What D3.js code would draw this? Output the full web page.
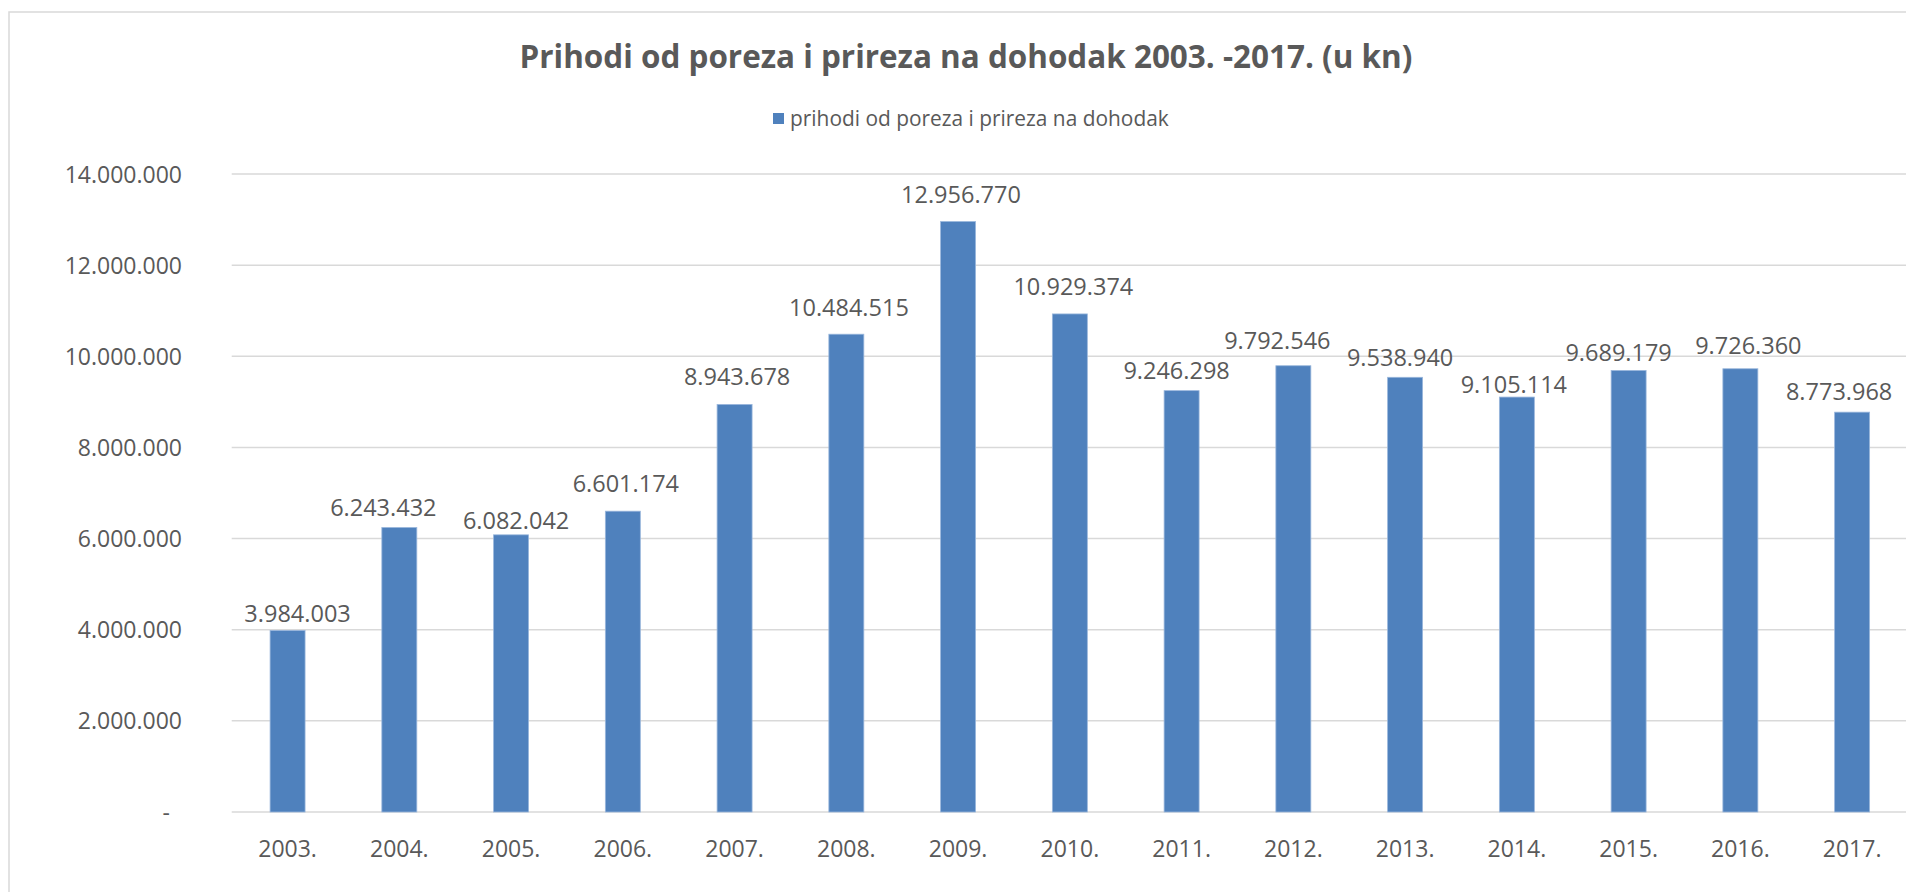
<!DOCTYPE html>
<html>
<head>
<meta charset="utf-8">
<script src="https://cdn.jsdelivr.net/npm/d3@7"></script>
<style>
  body { margin: 0; background: #fff; }
  svg text { font-family: "Open Sans", sans-serif; fill: #595959; }
</style>
</head>
<body>
<div id="chart"></div>
<script>
var years = ["2003.", "2004.", "2005.", "2006.", "2007.", "2008.", "2009.", "2010.",
             "2011.", "2012.", "2013.", "2014.", "2015.", "2016.", "2017."];
var prihodi = [3984003, 6243432, 6082042, 6601174, 8943678, 10484515, 12956770, 10929374,
               9246298, 9792546, 9538940, 9105114, 9689179, 9726360, 8773968];
var yTicks = [0, 2000000, 4000000, 6000000, 8000000, 10000000, 12000000, 14000000];
var title = "Prihodi od poreza i prireza na dohodak 2003. -2017. (u kn)";
var seriesName = "prihodi od poreza i prireza na dohodak";

// hand-moved data labels in the original: [dx, gap above bar] in px
var labelNudge = [[10, 8], [-16, 11], [5, 6], [3, 19], [2.5, 19], [2.6, 18], [2.9, 19], [3.5, 19],
                  [-5, 12], [-16, 17], [-5, 11], [-3, 4], [-10, 9], [8, 15], [-13, 12]];

var width = 1906, height = 892;
var svg = d3.select("#chart").append("svg").attr("width", width).attr("height", height);

var hr = d3.formatLocale({decimal: ",", thousands: ".", grouping: [3], currency: ["", " kn"]});
var fmt = hr.format(",d");

var plotLeft = 231.7, plotRight = 1908, plotTop = 174, plotBottom = 812;
var p = 0.687;
var x = d3.scaleBand().domain(years).range([plotLeft, plotRight]).paddingInner(p).paddingOuter(p / 2);
var y = d3.scaleLinear().domain([0, 14000000]).range([plotBottom, plotTop]);

// chart border (cut off at right and bottom like the original)
svg.append("path")
  .attr("d", "M9," + height + "V12H" + width)
  .attr("fill", "none").attr("stroke", "#d9d9d9").attr("stroke-width", 1.5);

// title
var t = svg.append("text").attr("x", 966).attr("y", 68)
  .attr("text-anchor", "middle")
  .style("font-family", "'Liberation Sans Narrow', 'Open Sans', sans-serif")
  .style("font-weight", "bold").style("font-size", "32px")
  .text(title);
var tw = t.node().getComputedTextLength();
t.style("font-size", (32 * 893 / tw) + "px");

// legend
var lg = svg.append("g");
lg.append("rect").attr("x", 773).attr("y", 113).attr("width", 11).attr("height", 11).attr("fill", "#4f81bd");
var lt = lg.append("text").attr("x", 790).attr("y", 126)
  .style("font-family", "'Liberation Sans Narrow', 'Open Sans', sans-serif")
  .style("font-size", "21px").text(seriesName);
var lw = lt.node().getComputedTextLength();
lt.style("font-size", (21 * 379 / lw) + "px");

// gridlines + y axis
var yAxis = d3.axisLeft(y).tickValues(yTicks).tickSize(0).tickPadding(0)
  .tickFormat(function(d) { return d === 0 ? "-" : fmt(d); });
var ya = svg.append("g").attr("transform", "translate(182,0)").call(yAxis);
ya.select(".domain").remove();
ya.selectAll("text").style("font-size", "23px").style("font-family", "'Open Sans', sans-serif")
  .attr("fill", "#595959").attr("dy", "0.35em")
  .attr("dx", function(d) { return d === 0 ? -12 : 0; });

svg.append("g").selectAll("line").data(yTicks).join("line")
  .attr("x1", plotLeft).attr("x2", width)
  .attr("y1", function(d) { return y(d); }).attr("y2", function(d) { return y(d); })
  .attr("stroke", "#d9d9d9").attr("stroke-width", 1.5);

// bars
svg.append("g").selectAll("rect").data(prihodi).join("rect")
  .attr("x", function(d, i) { return x(years[i]); })
  .attr("width", x.bandwidth())
  .attr("y", function(d) { return y(d); })
  .attr("height", function(d) { return y(0) - y(d); })
  .attr("fill", "#4f81bd")
  .attr("stroke", "#9ab7dc").attr("stroke-width", 0.8);

// data labels
svg.append("g").selectAll("text").data(prihodi).join("text")
  .attr("x", function(d, i) { return x(years[i]) + x.bandwidth() / 2 + labelNudge[i][0]; })
  .attr("y", function(d, i) { return y(d) - labelNudge[i][1]; })
  .attr("text-anchor", "middle")
  .style("font-size", "23.5px")
  .text(function(d) { return fmt(d); });

// x axis
var xAxis = d3.axisBottom(x).tickSize(0).tickPadding(0);
var xa = svg.append("g").attr("transform", "translate(0," + plotBottom + ")").call(xAxis);
xa.select(".domain").remove();
xa.selectAll("text").style("font-size", "23px").style("font-family", "'Open Sans', sans-serif")
  .attr("fill", "#595959").attr("dy", 0).attr("y", 45);
</script>
</body>
</html>
